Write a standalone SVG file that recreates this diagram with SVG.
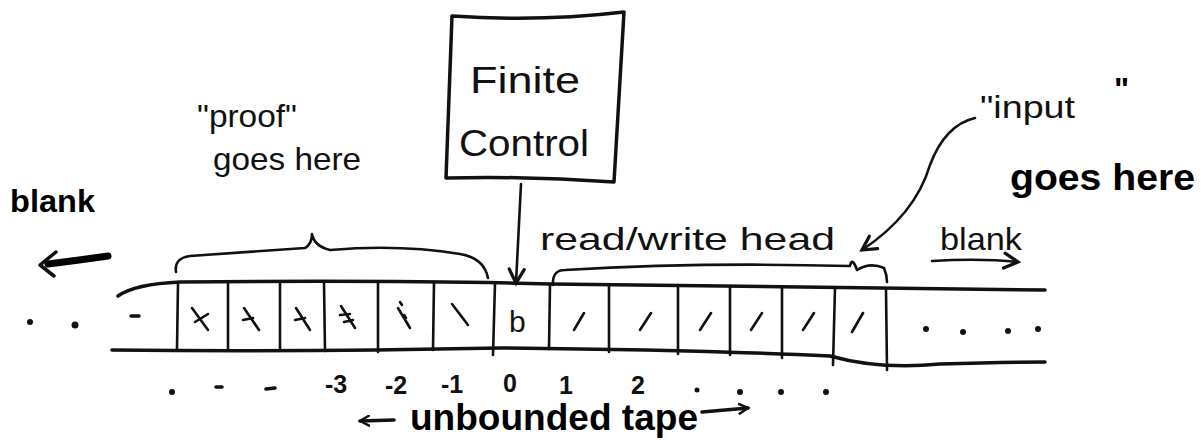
<svg xmlns="http://www.w3.org/2000/svg" width="1204" height="445" viewBox="0 0 1204 445">
<defs>
<style>
.ln{fill:none;stroke:#111;stroke-width:3.5;stroke-linecap:round;stroke-linejoin:round}
.th{fill:none;stroke:#111;stroke-width:2.6;stroke-linecap:round;stroke-linejoin:round}
.bd{fill:none;stroke:#000;stroke-width:7;stroke-linecap:round}
.t{font-family:"Liberation Sans","DejaVu Sans",sans-serif;fill:#111}
.hw{font-size:32px}
.big{font-size:36px}
.bk{font-weight:bold;fill:#000}
.sm{font-size:25px;font-weight:bold}
.dot{fill:#111}
</style>
<marker id="ah" viewBox="0 0 12 12" refX="10" refY="6" markerWidth="12" markerHeight="12" markerUnits="userSpaceOnUse" orient="auto">
<path d="M1,1 L10,6 L1,11" fill="none" stroke="#111" stroke-width="2.5" stroke-linecap="round"/>
</marker>
<marker id="ahb" viewBox="0 0 16 16" refX="13" refY="8" markerWidth="20" markerHeight="20" markerUnits="userSpaceOnUse" orient="auto">
<path d="M2,2 L13,8 L2,14" fill="none" stroke="#111" stroke-width="2.6" stroke-linecap="round"/>
</marker>
</defs>
<rect width="1204" height="445" fill="#fff"/>

<g id="finite-control">
<path class="ln" d="M452,16 Q540,22 624,12 L614,182 Q530,176 446,178 Z"/>
<text class="t big" x="470" y="93" textLength="110" lengthAdjust="spacingAndGlyphs">Finite</text>
<text class="t big" x="459" y="156" textLength="130" lengthAdjust="spacingAndGlyphs">Control</text>
</g>

<g id="tape">
<path class="ln" d="M118,296 Q135,284 180,282 Q400,280 550,284 Q800,286 1045,290"/>
<path class="ln" d="M112,350 Q300,352 500,348 Q700,350 830,356 Q880,370 940,364 Q1000,362 1045,362"/>
<path class="th" d="M178,283 L177,349 M228,283 L228,350 M280,282 L280,350 M324,282 L325,351 M378,282 L378,352 M434,282 L433,350 M495,283 L493,355 M550,284 L549,349 M609,285 L609,352 M678,285 L678,354 M730,286 L730,355 M782,287 L782,358 M835,288 L833,365 M886,290 L887,370"/>
<path class="ln" d="M131,316 L139,316"/>
<path class="th" d="M192,308 L208,330 M195,322 L208,314"/>
<path class="th" d="M244,308 L259,330 M243,320 L253,318"/>
<path class="th" d="M296,308 L310,330 M295,320 L305,318"/>
<path class="th" d="M341,306 L355,328 M340,315 L350,314 M344,322 L353,320"/>
<path class="th" d="M398,308 L410,328 M400,302 L402,305 M404,315 L406,318"/>
<path class="th" d="M452,304 L468,325"/>
<text class="t" x="509" y="332" font-size="30">b</text>
<path class="th" d="M574,330 L584,313 M640,330 L651,313 M700,330 L711,313 M751,330 L762,313 M803,330 L814,313 M852,332 L863,313"/>
<circle class="dot" cx="30" cy="322" r="3"/>
<circle class="dot" cx="75" cy="325" r="3.5"/>
<circle class="dot" cx="926" cy="329" r="3"/>
<circle class="dot" cx="963" cy="332" r="3"/>
<circle class="dot" cx="1008" cy="331" r="3"/>
<circle class="dot" cx="1038" cy="329" r="3"/>
</g>

<g id="indices">
<circle class="dot" cx="172" cy="392" r="3"/>
<path class="ln" d="M216,387 L222,387 M266,389 L275,388"/>
<text class="t sm" x="325" y="393">-3</text>
<text class="t sm" x="385" y="394">-2</text>
<text class="t sm" x="441" y="393">-1</text>
<text class="t sm" x="503" y="392">0</text>
<text class="t sm" x="559" y="394">1</text>
<text class="t sm" x="631" y="394">2</text>
<circle class="dot" cx="697" cy="390" r="2.5"/>
<circle class="dot" cx="740" cy="392" r="3"/>
<circle class="dot" cx="781" cy="392" r="3"/>
<circle class="dot" cx="826" cy="392" r="3"/>
</g>

<g id="tape-label">
<path class="ln" d="M394,420 L360,421" marker-end="url(#ah)"/>
<text class="t big bk" x="410" y="430" textLength="288" lengthAdjust="spacingAndGlyphs">unbounded tape</text>
<path class="ln" d="M702,412 L748,408" marker-end="url(#ah)"/>
</g>

<g id="blank-left">
<text class="t hw bk" x="10" y="212" textLength="85" lengthAdjust="spacingAndGlyphs">blank</text>
<path class="bd" d="M108,256 Q80,260 48,264"/>
<path class="ln" d="M56,252 L40,265 L54,276" stroke-width="5"/>
</g>

<g id="proof-label">
<text class="t hw" x="197" y="127" textLength="100" lengthAdjust="spacingAndGlyphs">"proof"</text>
<text class="t hw" x="213" y="170" textLength="148" lengthAdjust="spacingAndGlyphs">goes here</text>
</g>

<g id="rw-label">
<text class="t hw" x="540" y="250" textLength="295" lengthAdjust="spacingAndGlyphs">read/write head</text>
</g>

<g id="input-label">
<text class="t hw" x="980" y="118" textLength="95" lengthAdjust="spacingAndGlyphs">"input</text>
<text class="t hw bk" x="1114" y="100">"</text>
<text class="t big bk" x="1010" y="190" textLength="185" lengthAdjust="spacingAndGlyphs">goes here</text>
</g>

<g id="blank-right">
<text class="t hw" x="940" y="250" textLength="82" lengthAdjust="spacingAndGlyphs">blank</text>
</g>

<g id="connectors">
<path class="th" d="M176,272 Q174,258 190,256 Q250,252 305,248 Q312,244 312,234 Q314,246 330,250 Q400,244 460,254 Q484,258 488,278"/>
<path class="th" d="M553,285 Q552,270 565,270 Q700,262 850,266 Q852,256 857,270 Q870,262 884,268 Q887,275 887,282"/>
<path class="th" d="M521,184 L516,283" marker-end="url(#ahb)"/>
<path class="th" d="M975,118 Q945,125 930,165 Q915,215 862,250" marker-end="url(#ahb)"/>
<path class="th" d="M932,261 Q980,258 1018,262" marker-end="url(#ahb)"/>
</g>
</svg>
